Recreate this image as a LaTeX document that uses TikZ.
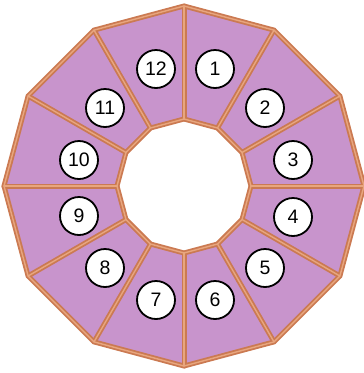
\documentclass[tikz,border=0pt]{standalone}
\usepackage{fontspec}
\setmainfont{Liberation Sans}
\usetikzlibrary{calc}
\definecolor{lilac}{RGB}{200,148,204}
\definecolor{copper}{RGB}{203,122,82}
\definecolor{copperlight}{RGB}{232,166,126}
\begin{document}
\begin{tikzpicture}[x=1pt,y=-1pt,
  edge/.style={draw=copper, line width=5pt, line join=round, line cap=round},
  edgehi/.style={draw=copperlight, line width=1.4pt, line join=round, line cap=round},
  num/.style={circle, draw=black, line width=1.8pt, fill=white, minimum size=38pt, inner sep=0pt, font=\fontsize{19.5}{19.5}\selectfont}]
\useasboundingbox (0,0) rectangle (364,373);
\coordinate (c) at (184,186);
\foreach \i in {0,...,11} {
  \coordinate (o\i) at ($(c)+(\i*30:180)$);
  \coordinate (i\i) at ($(c)+(\i*30:67)$);
}
\fill[lilac, even odd rule] (o0) -- (o1) -- (o2) -- (o3) -- (o4) -- (o5) -- (o6) -- (o7) -- (o8) -- (o9) -- (o10) -- (o11) -- cycle
  (i0) -- (i1) -- (i2) -- (i3) -- (i4) -- (i5) -- (i6) -- (i7) -- (i8) -- (i9) -- (i10) -- (i11) -- cycle;
\foreach \s in {edge,edgehi} {
  \foreach \i in {0,...,11} { \draw[\s] (i\i) -- (o\i); }
  \draw[\s] (o0) -- (o1) -- (o2) -- (o3) -- (o4) -- (o5) -- (o6) -- (o7) -- (o8) -- (o9) -- (o10) -- (o11) -- cycle;
  \draw[\s] (i0) -- (i1) -- (i2) -- (i3) -- (i4) -- (i5) -- (i6) -- (i7) -- (i8) -- (i9) -- (i10) -- (i11) -- cycle;
}
\node[num] (n1) at (215,69) {1};
\node[num] (n2) at (265,108) {2};
\node[num] (n3) at (293,160) {3};
\node[num] (n4) at (293,217) {4};
\node[num] (n5) at (265,268) {5};
\node[num] (n6) at (215,300) {6};
\node[num] (n7) at (156,300) {7};
\node[num] (n8) at (105,268) {8};
\node[num] (n9) at (79,216) {9};
\node[num] (n10) at (79,160) {10};
\node[num] (n11) at (105,108) {11};
\node[num] (n12) at (156,69) {12};
\end{tikzpicture}
\end{document}
